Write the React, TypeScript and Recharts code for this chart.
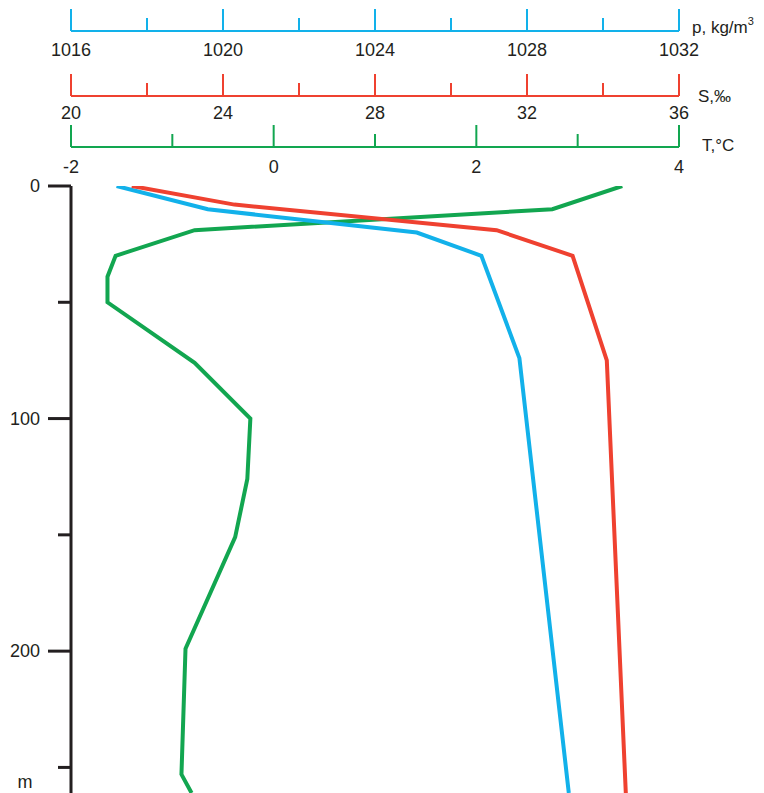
import React from 'react';
import { ScatterChart, Scatter, XAxis, YAxis } from 'recharts';

const densityDepth = [0, 10, 20, 30, 74, 261];
const densityValues = [1017.2, 1019.6, 1025.1, 1026.8, 1027.8, 1029.1];

const salinityDepth = [0, 8, 19, 30, 75, 261];
const salinityValues = [21.6, 24.3, 31.2, 33.2, 34.1, 34.6];

const temperatureDepth = [0, 10, 19, 30, 39, 50, 76, 100, 126, 151, 199, 253, 261];
const temperatureValues = [3.44, 2.75, -0.78, -1.56, -1.64, -1.64, -0.78, -0.23, -0.26, -0.38, -0.87, -0.91, -0.81];

// Axis ticks and labels
const depthTicks = [0, 50, 100, 150, 200, 250];
const depthTickLabels = ['0', '', '100', '', '200', 'm'];
const densityTicks = [1016, 1018, 1020, 1022, 1024, 1026, 1028, 1030, 1032];
const densityLabelled = [1016, 1020, 1024, 1028, 1032];
const salinityTicks = [20, 22, 24, 26, 28, 30, 32, 34, 36];
const salinityLabelled = [20, 24, 28, 32, 36];
const temperatureTicks = [-2, -1, 0, 1, 2, 3, 4];
const temperatureLabelled = [-2, 0, 2, 4];

const BLUE = '#12b1ea';
const RED = '#ef4130';
const GREEN = '#12a650';
const INK = '#231f20';
const FONT = '"Liberation Sans", Arial, sans-serif';

const toPoints = (depths: number[], values: number[]) =>
  depths.map((d, i) => ({ d, v: values[i] }));

const densityData = toPoints(densityDepth, densityValues);
const salinityData = toPoints(salinityDepth, salinityValues);
const temperatureData = toPoints(temperatureDepth, temperatureValues);

const makeTopTick = (color: string, labelled: number[], dy: number) => (props: any) => {
  const { x, y, payload } = props;
  const major = labelled.includes(payload.value);
  return (
    <g>
      <line x1={x} x2={x} y1={y} y2={y - (major ? 22 : 13)} stroke={color} strokeWidth={2} />
      {major && (
        <text
          x={x}
          y={y + dy}
          textAnchor="middle"
          dominantBaseline="central"
          fontFamily={FONT}
          fontSize={18}
          fill={INK}
        >
          {payload.value}
        </text>
      )}
    </g>
  );
};

const makeUnitLabel = (text: React.ReactNode, dx: number, dy: number) => (props: any) => {
  const vb = props && props.viewBox;
  if (!vb) return null;
  return (
    <text
      x={vb.x + vb.width + dx}
      y={vb.y + vb.height + dy}
      dominantBaseline="central"
      fontFamily={FONT}
      fontSize={17}
      fill={INK}
    >
      {text}
    </text>
  );
};

const DepthTick = (props: any) => {
  const { x, y, payload, index } = props;
  const label = depthTickLabels[index] ?? '';
  const major = payload.value % 100 === 0;
  const isUnit = label === 'm';
  return (
    <g>
      <line x1={x - (major ? 23 : 13)} x2={x} y1={y} y2={y} stroke={INK} strokeWidth={3} />
      {label !== '' && (
        <text
          x={isUnit ? x - 46 : x - 31}
          y={isUnit ? y + 15 : y}
          textAnchor={isUnit ? 'middle' : 'end'}
          dominantBaseline="central"
          fontFamily={FONT}
          fontSize={18}
          fill={INK}
        >
          {label}
        </text>
      )}
    </g>
  );
};

const NoDot = () => <g />;

export default function App() {
  return (
    <ScatterChart
      width={756}
      height={785}
      margin={{ top: 0, right: 85, bottom: 0, left: 0 }}
    >
      <XAxis
        xAxisId="a_spacer"
        orientation="top"
        type="number"
        domain={[0, 1]}
        height={39}
        tick={false}
        axisLine={false}
        tickLine={false}
      />
      <XAxis
        xAxisId="b_T"
        orientation="top"
        type="number"
        dataKey="v"
        domain={[-2, 4]}
        ticks={temperatureTicks}
        interval={0}
        height={51}
        allowDataOverflow
        tickLine={false}
        tickSize={0}
        tickMargin={0}
        axisLine={{ stroke: GREEN, strokeWidth: 2 }}
        tick={makeTopTick(GREEN, temperatureLabelled, 20)}
        label={makeUnitLabel('T,°C', 23, -2)}
      />
      <XAxis
        xAxisId="c_S"
        orientation="top"
        type="number"
        dataKey="v"
        domain={[20, 36]}
        ticks={salinityTicks}
        interval={0}
        height={65}
        allowDataOverflow
        tickLine={false}
        tickSize={0}
        tickMargin={0}
        axisLine={{ stroke: RED, strokeWidth: 2 }}
        tick={makeTopTick(RED, salinityLabelled, 17)}
        label={makeUnitLabel('S,‰', 19, 0)}
      />
      <XAxis
        xAxisId="d_p"
        orientation="top"
        type="number"
        dataKey="v"
        domain={[1016, 1032]}
        ticks={densityTicks}
        interval={0}
        height={23}
        allowDataOverflow
        tickLine={false}
        tickSize={0}
        tickMargin={0}
        axisLine={{ stroke: BLUE, strokeWidth: 2 }}
        tick={makeTopTick(BLUE, densityLabelled, 19)}
        label={makeUnitLabel(
          <>
            p, kg/m<tspan fontSize={11} dy={-6}>3</tspan>
          </>,
          13,
          -4
        )}
      />
      <YAxis
        yAxisId="d"
        type="number"
        dataKey="d"
        reversed
        domain={[0, 261]}
        ticks={depthTicks}
        interval={0}
        width={63}
        allowDataOverflow
        tickLine={false}
        tickSize={0}
        tickMargin={0}
        axisLine={{ stroke: INK, strokeWidth: 3 }}
        tick={DepthTick}
      />
      <Scatter
        xAxisId="b_T"
        yAxisId="d"
        data={temperatureData}
        line={{ stroke: GREEN, strokeWidth: 4 }}
        shape={NoDot}
        isAnimationActive={false}
      />
      <Scatter
        xAxisId="d_p"
        yAxisId="d"
        data={densityData}
        line={{ stroke: BLUE, strokeWidth: 4 }}
        shape={NoDot}
        isAnimationActive={false}
      />
      <Scatter
        xAxisId="c_S"
        yAxisId="d"
        data={salinityData}
        line={{ stroke: RED, strokeWidth: 4 }}
        shape={NoDot}
        isAnimationActive={false}
      />
    </ScatterChart>
  );
}
